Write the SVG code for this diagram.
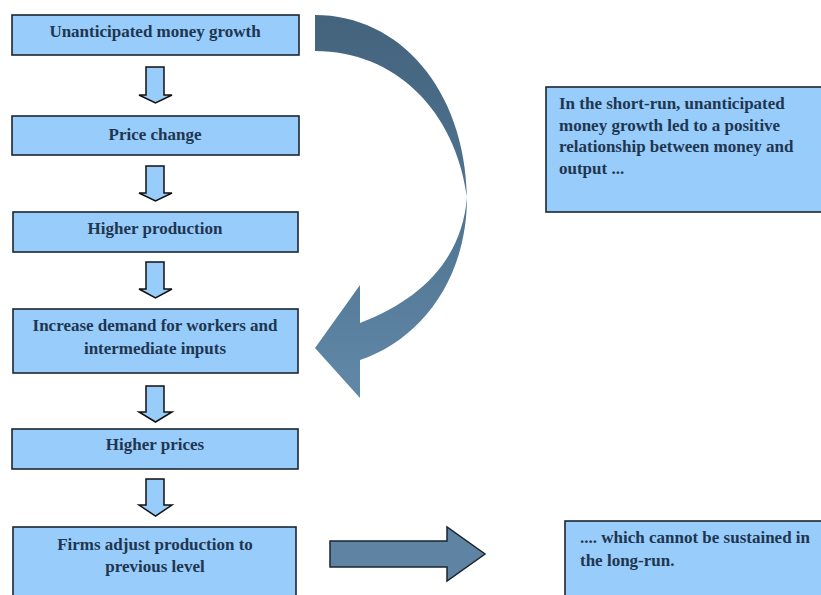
<svg xmlns="http://www.w3.org/2000/svg" width="821" height="595" viewBox="0 0 821 595">
<defs>
<linearGradient id="cg" x1="0" y1="0" x2="0" y2="1">
<stop offset="0" stop-color="#44637d"/>
<stop offset="0.5" stop-color="#4f7491"/>
<stop offset="1" stop-color="#6288a8"/>
</linearGradient>
<style>
.box{fill:#98ccfa;stroke:#1c2630;stroke-width:1.6}
.dn{fill:#98ccfa;stroke:#111;stroke-width:1.5;stroke-linejoin:miter}
.t{font-family:"Liberation Serif",serif;font-weight:bold;font-size:17px;fill:#1f3650;text-anchor:middle}
.tl{font-family:"Liberation Serif",serif;font-weight:bold;font-size:17px;fill:#1f3650}
</style>
</defs>
<rect width="821" height="595" fill="#fff"/>
<g id="n1"><rect class="box" x="12" y="15" width="287" height="40"/><text class="t" x="155" y="37">Unanticipated money growth</text></g>
<g id="n2"><rect class="box" x="12" y="116" width="287" height="39"/><text class="t" x="155" y="140">Price change</text></g>
<g id="n3"><rect class="box" x="13" y="212" width="285" height="40"/><text class="t" x="155" y="234">Higher production</text></g>
<g id="n4"><rect class="box" x="13" y="309" width="285" height="64"/><text class="t" x="155" y="331">Increase demand for workers and</text><text class="t" x="155" y="354">intermediate inputs</text></g>
<g id="n5"><rect class="box" x="12" y="429" width="286" height="40"/><text class="t" x="155" y="450">Higher prices</text></g>
<g id="n6"><rect class="box" x="13" y="527" width="283" height="72"/><text class="t" x="155" y="550">Firms adjust production to</text><text class="t" x="155" y="572">previous level</text></g>
<g id="n7"><rect class="box" x="546" y="87" width="280" height="125"/><text class="tl" x="559" y="109">In the short-run, unanticipated</text><text class="tl" x="559" y="131">money growth led to a positive</text><text class="tl" x="559" y="152">relationship between money and</text><text class="tl" x="559" y="174">output ...</text></g>
<g id="n8"><rect class="box" x="565" y="521" width="260" height="80"/><text class="tl" x="580" y="543">.... which cannot be sustained in</text><text class="tl" x="580" y="566">the long-run.</text></g>
<g id="connectors">
<polygon class="dn" points="146,67 164,67 164,95 172,95 155.5,103 139,95 146,95"/>
<polygon class="dn" points="146,166 164,166 164,193 172,193 155.5,201 139,193 146,193"/>
<polygon class="dn" points="146,262 164,262 164,289 172,289 155.5,298 139,289 146,289"/>
<polygon class="dn" points="146,386 164,386 164,412 172,412 155.5,422 139,412 146,412"/>
<polygon class="dn" points="146,479 164,479 164,505 172,505 155.5,516 139,505 146,505"/>
<path d="M315,15 C400,15 465,90 467,197 C467,280 420,340 360,360 L360,398 L315,348 L360,285 L360,323 C420,300 462,260 467,197 C455,110 395,51 315,51 Z" fill="url(#cg)"/>
<polygon points="330,541 447,541 447,527 485,554 447,581 447,567 330,567" fill="#5f84a3" stroke="#1a2530" stroke-width="1.5"/>
</g>
</svg>
